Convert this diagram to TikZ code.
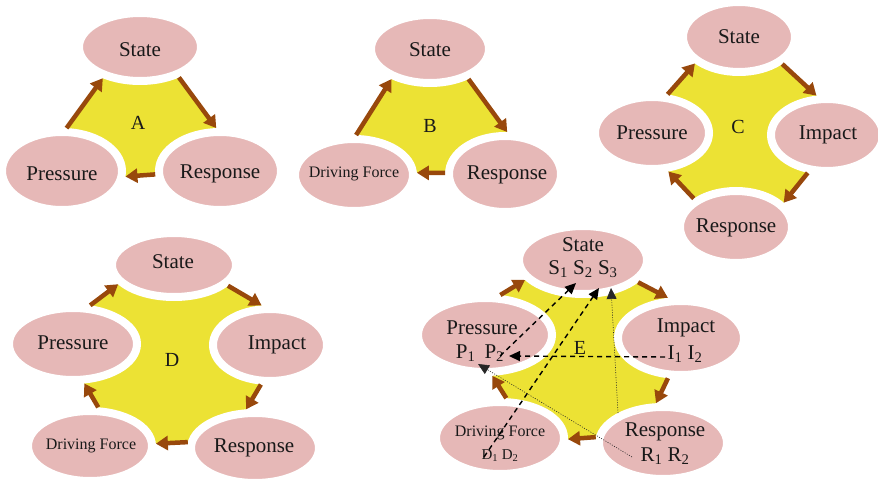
\documentclass[tikz,border=0pt]{standalone}
\usepackage{fontspec}
\setmainfont{Liberation Serif}
\usetikzlibrary{shapes.geometric,arrows.meta,calc}
\pgfdeclarelayer{back}
\pgfsetlayers{back,main}
\definecolor{blobpink}{RGB}{230,184,183}
\definecolor{hubyellow}{RGB}{236,226,52}
\definecolor{flowbrown}{RGB}{152,72,12}
\tikzset{
  blob/.style n args={2}{ellipse, fill=blobpink, draw=white, line width=8pt,
    outer sep=4pt, inner sep=0pt, minimum width=#1, minimum height=#2},
  word/.style={font=\fontsize{21}{24}\selectfont, inner sep=0pt, text=black!90},
  smallword/.style={font=\fontsize{16}{18}\selectfont, inner sep=0pt, text=black!90},
  tinyword/.style={font=\fontsize{15}{17}\selectfont, inner sep=0pt, text=black!90},
  tag/.style={font=\fontsize{20}{22}\selectfont, inner sep=0pt, text=black!90},
  flow/.style={draw=flowbrown, line width=4.5pt, -{Triangle[length=12pt,width=14pt]}},
  link/.style={draw=black, line width=1.4pt, dash pattern=on 5pt off 4pt,
    -{Triangle[length=11pt,width=10pt]}},
  trace/.style={draw=black!85, line width=0.6pt, dash pattern=on 1pt off 1.5pt,
    -{Triangle[length=11pt,width=10pt]}},
  hub/.style={fill=hubyellow},
}
\begin{document}
\begin{tikzpicture}[x=1pt,y=-1pt]
\begin{pgfonlayer}{back}
\fill[white] (0,0) rectangle (878,481);
\end{pgfonlayer}
\useasboundingbox (0,0) rectangle (878,481);

% ---------- cycle A ----------
\node[blob={122pt}{68pt}] (aS) at (140,47) {};
\node[blob={120pt}{78pt}] (aP) at (62,171) {};
\node[blob={122pt}{78pt}] (aR) at (220,171) {};
\begin{pgfonlayer}{back}
\fill[hub] (aP.84) -- (aS.220) -- (aS.center) -- (aS.322) -- (aR.95) -- (aR.center)
  -- (aR.183.5) -- (aP.355) -- (aP.center) -- cycle;
\end{pgfonlayer}
\draw[flow] (aP.84) -- (aS.220);
\draw[flow] (aS.322) -- (aR.95);
\draw[flow] (aR.183.5) -- (aP.355);
\node[word] (aSt) at (140,50) {State};
\node[word] (aPt) at (62,174) {Pressure};
\node[word] (aRt) at (220,174) {Response};
\node[tag] (aTag) at (138,123) {A};

% ---------- cycle B ----------
\node[blob={118pt}{68pt}] (bS) at (430,49) {};
\node[blob={118pt}{72pt}] (bD) at (354,175) {};
\node[blob={112pt}{76pt}] (bR) at (505,174) {};
\begin{pgfonlayer}{back}
\fill[hub] (bD.87) -- (bS.218) -- (bS.center) -- (bS.322.5) -- (bR.87) -- (bR.center)
  -- (bR.179) -- (bD.2) -- (bD.center) -- cycle;
\end{pgfonlayer}
\draw[flow] (bD.87) -- (bS.218);
\draw[flow] (bS.322.5) -- (bR.87);
\draw[flow] (bR.179) -- (bD.2);
\node[word] (bSt) at (430,50) {State};
\node[smallword] (bDt) at (354,174) {Driving Force};
\node[word] (bRt) at (507,175) {Response};
\node[tag] (bTag) at (430,126) {B};

% ---------- cycle C ----------
\node[blob={112pt}{70pt}] (cS) at (739,37) {};
\node[blob={114pt}{72pt}] (cP) at (652,133) {};
\node[blob={112pt}{72pt}] (cI) at (827,135) {};
\node[blob={112pt}{72pt}] (cR) at (736,227) {};
\begin{pgfonlayer}{back}
\fill[hub] (cP.68.2) -- (cS.211.8) -- (cS.center) -- (cS.328.7) -- (cI.105.5) -- (cI.center)
  -- (cI.243.4) -- (cR.27.6) -- (cR.center) -- (cR.146.7) -- (cP.293.2) -- (cP.center) -- cycle;
\end{pgfonlayer}
\draw[flow] (cP.68.2) -- (cS.211.8);
\draw[flow] (cS.328.7) -- (cI.105.5);
\draw[flow] (cI.243.4) -- (cR.27.6);
\draw[flow] (cR.146.7) -- (cP.293.2);
\node[word] (cSt) at (739,37) {State};
\node[word] (cPt) at (652,133) {Pressure};
\node[word] (cIt) at (828,135) {Impact};
\node[word] (cRt) at (736,228) {Response};
\node[tag] (cTag) at (738,127) {C};

% ---------- cycle D ----------
\node[blob={124pt}{64pt}] (dS) at (174,265) {};
\node[blob={128pt}{72pt}] (dP) at (73,344) {};
\node[blob={114pt}{72pt}] (dI) at (270,345) {};
\node[blob={124pt}{70pt}] (dF) at (90,446) {};
\node[blob={128pt}{70pt}] (dR) at (255,448) {};
\begin{pgfonlayer}{back}
\fill[hub] (dP.66.4) -- (dS.199.1) -- (dS.center) -- (dS.339) -- (dI.102.5) -- (dI.center)
  -- (dI.257) -- (dR.103.6) -- (dR.center) -- (dR.175.5) -- (dF.2.8) -- (dF.center)
  -- (dF.78.4) -- (dP.286.9) -- (dP.center) -- cycle;
\end{pgfonlayer}
\draw[flow] (dP.66.4) -- (dS.199.1);
\draw[flow] (dS.339) -- (dI.102.5);
\draw[flow] (dI.257) -- (dR.103.6);
\draw[flow] (dR.175.5) -- (dF.2.8);
\draw[flow] (dF.78.4) -- (dP.286.9);
\node[word] (dSt) at (173,262) {State};
\node[word] (dPt) at (73,343) {Pressure};
\node[word] (dIt) at (277,345) {Impact};
\node[smallword] (dFt) at (91,446) {Driving Force};
\node[word] (dRt) at (254,448) {Response};
\node[tag] (dTag) at (172,360) {D};

% ---------- cycle E ----------
\node[blob={128pt}{68pt}] (eS) at (583,260) {};
\node[blob={134pt}{74pt}] (eP) at (485,335) {};
\node[blob={126pt}{74pt}] (eI) at (681,338) {};
\node[blob={128pt}{72pt}] (eF) at (500,438) {};
\node[blob={128pt}{72pt}] (eR) at (663,443) {};
\begin{pgfonlayer}{back}
\fill[hub] (eP.69) -- (eS.199) -- (eS.center) -- (eS.338.9) -- (eI.108.9) -- (eI.center)
  -- (eI.252.6) -- (eR.100) -- (eR.center) -- (eR.175.5) -- (eF.359) -- (eF.center)
  -- (eF.81.4) -- (eP.280.7) -- (eP.center) -- cycle;
\end{pgfonlayer}
\draw[flow] (eP.69) -- (eS.199);
\draw[flow] (eS.338.9) -- (eI.108.9);
\draw[flow] (eI.252.6) -- (eR.100);
\draw[flow] (eR.175.5) -- (eF.359);
\draw[flow] (eF.81.4) -- (eP.280.7);
\node[word] (eSt) at (583,245) {State};
\node[word] (eSs) at (583,269) {S\textsubscript{1} S\textsubscript{2} S\textsubscript{3}};
\node[word] (ePt) at (482,328) {Pressure};
\node[word] (ePs) at (480,353) {P\textsubscript{1}\hspace{9pt}P\textsubscript{2}};
\node[word] (eIt) at (686,328) {Impact};
\node[word] (eIs) at (685,354) {I\textsubscript{1} I\textsubscript{2}};
\node[smallword] (eFt) at (500,433) {Driving Force};
\node[tinyword] (eFs) at (500,456) {D\textsubscript{1} D\textsubscript{2}};
\node[word] (eRt) at (665,432) {Response};
\node[word] (eRs) at (665,456) {R\textsubscript{1} R\textsubscript{2}};
\node[tag] (eTag) at (580,348) {E};

% indicator links between the E-cycle items
\coordinate (pTwo) at (500,356);
\coordinate (sTwo) at (576,283);
\coordinate (dOne) at (484,457);
\coordinate (sThree) at (599,288);
\coordinate (rTop) at (618,413);
\coordinate (sThreeLow) at (611,288);
\coordinate (iOne) at (665,357);
\coordinate (pTwoEnd) at (509,356);
\coordinate (rOne) at (632,457);
\coordinate (pOne) at (478,364);
\draw[link] (pTwo) -- (sTwo);
\draw[link] (dOne) -- (sThree);
\draw[trace] (rTop) -- (sThreeLow);
\draw[link] (iOne) -- (pTwoEnd);
\draw[trace] (rOne) -- (pOne);
\end{tikzpicture}
\end{document}
